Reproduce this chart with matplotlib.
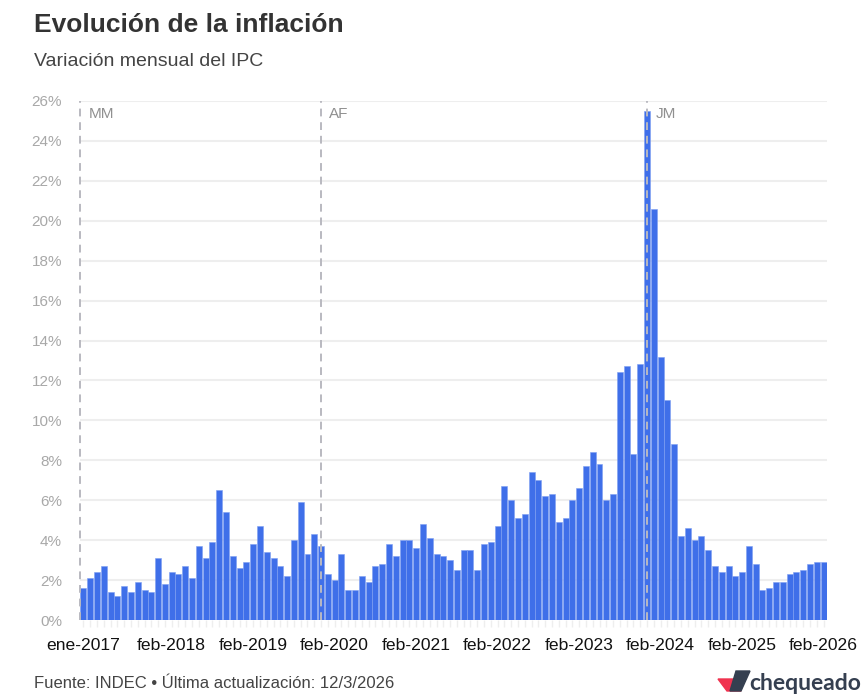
import matplotlib
matplotlib.use('Agg')
import matplotlib.pyplot as plt
from matplotlib.patches import Polygon

plt.rcParams['font.family'] = ['Liberation Sans', 'DejaVu Sans']

W, H = 868, 700

ipc = [
    1.6, 2.1, 2.4, 2.7, 1.4, 1.2, 1.7, 1.4, 1.9, 1.5, 1.4, 3.1,
    1.8, 2.4, 2.3, 2.7, 2.1, 3.7, 3.1, 3.9, 6.5, 5.4, 3.2, 2.6,
    2.9, 3.8, 4.7, 3.4, 3.1, 2.7, 2.2, 4.0, 5.9, 3.3, 4.3, 3.7,
    2.3, 2.0, 3.3, 1.5, 1.5, 2.2, 1.9, 2.7, 2.8, 3.8, 3.2, 4.0,
    4.0, 3.6, 4.8, 4.1, 3.3, 3.2, 3.0, 2.5, 3.5, 3.5, 2.5, 3.8,
    3.9, 4.7, 6.7, 6.0, 5.1, 5.3, 7.4, 7.0, 6.2, 6.3, 4.9, 5.1,
    6.0, 6.6, 7.7, 8.4, 7.8, 6.0, 6.3, 12.4, 12.7, 8.3, 12.8, 25.5,
    20.6, 13.2, 11.0, 8.8, 4.2, 4.6, 4.0, 4.2, 3.5, 2.7, 2.4, 2.7,
    2.2, 2.4, 3.7, 2.8, 1.5, 1.6, 1.9, 1.9, 2.3, 2.4, 2.5, 2.8,
    2.9, 2.9,
]
label_pos = [0, 13, 25, 37, 49, 61, 73, 85, 97, 109]
label_txt = ['ene-2017', 'feb-2018', 'feb-2019', 'feb-2020', 'feb-2021',
             'feb-2022', 'feb-2023', 'feb-2024', 'feb-2025', 'feb-2026']
y_ticks = list(range(0, 28, 2))
gov_pos = [-0.5, 35, 83]
gov_txt = ['MM', 'AF', 'JM']

fig = plt.figure(figsize=(W / 100, H / 100), dpi=100)
ax = fig.add_axes([80 / W, 1 - 620 / H, (827 - 80) / W, (620 - 101) / H])

x = range(len(ipc))
ax.bar(x, ipc, width=0.88, color='#3f6fe9', edgecolor='#7f9ff2', linewidth=0.4, zorder=2)

ax.set_xlim(-0.5, len(ipc) - 0.5)
ax.set_ylim(0, 26)
ax.set_yticks(y_ticks)
ax.set_yticklabels([f'{v}%' for v in y_ticks], fontsize=11, color='#a8a8a8')
ax.tick_params(axis='y', length=0, pad=13)
ax.set_xticks(list(x))
ax.set_xticklabels([''] * len(ipc))
ax.tick_params(axis='x', length=5, width=1, color='#eeeeee')
ax.grid(axis='y', color='#eeeeee', linewidth=1.5, zorder=0)
ax.set_axisbelow(True)
for s in ax.spines.values():
    s.set_visible(False)

for p, t in zip(label_pos, label_txt):
    ax.annotate(t, (p, 0), xytext=(0, -18), textcoords='offset points',
                ha='center', va='center', fontsize=12.6, color='#111111',
                annotation_clip=False)

for p, t in zip(gov_pos, gov_txt):
    ax.axvline(p, color='#b9b9c0', linewidth=1.4, dashes=(4, 3), zorder=3, clip_on=False)
    ax.annotate(t, (p, 26), xytext=(6, -9), textcoords='offset points',
                ha='left', va='center', fontsize=11, color='#909090')

fig.text(34 / W, 1 - 25 / H, 'Evolución de la inflación', fontsize=19, fontweight='bold',
         color='#333333', ha='left', va='center')
fig.text(34 / W, 1 - 62 / H, 'Variación mensual del IPC', fontsize=14, color='#444444',
         ha='left', va='center')
fig.text(34 / W, 1 - 684 / H, 'Fuente: INDEC • Última actualización: 12/3/2026', fontsize=12,
         color='#444444', ha='left', va='center')

# logo
def px(points):
    return [(a / W, 1 - b / H) for a, b in points]

fig.add_artist(Polygon(px([(718, 679), (735, 679), (741, 691), (727, 691)]),
                       closed=True, color='#f0324f', transform=fig.transFigure))
fig.add_artist(Polygon(px([(730, 691), (741, 691), (750, 671), (736, 671)]),
                       closed=True, color='#353f50', transform=fig.transFigure))
fig.text(749 / W, 1 - 684 / H, 'chequeado', fontsize=16.5, fontweight='bold', color='#353f50',
         ha='left', va='center', family=['Lato', 'DejaVu Sans'])

fig.savefig('out.png', dpi=100)
